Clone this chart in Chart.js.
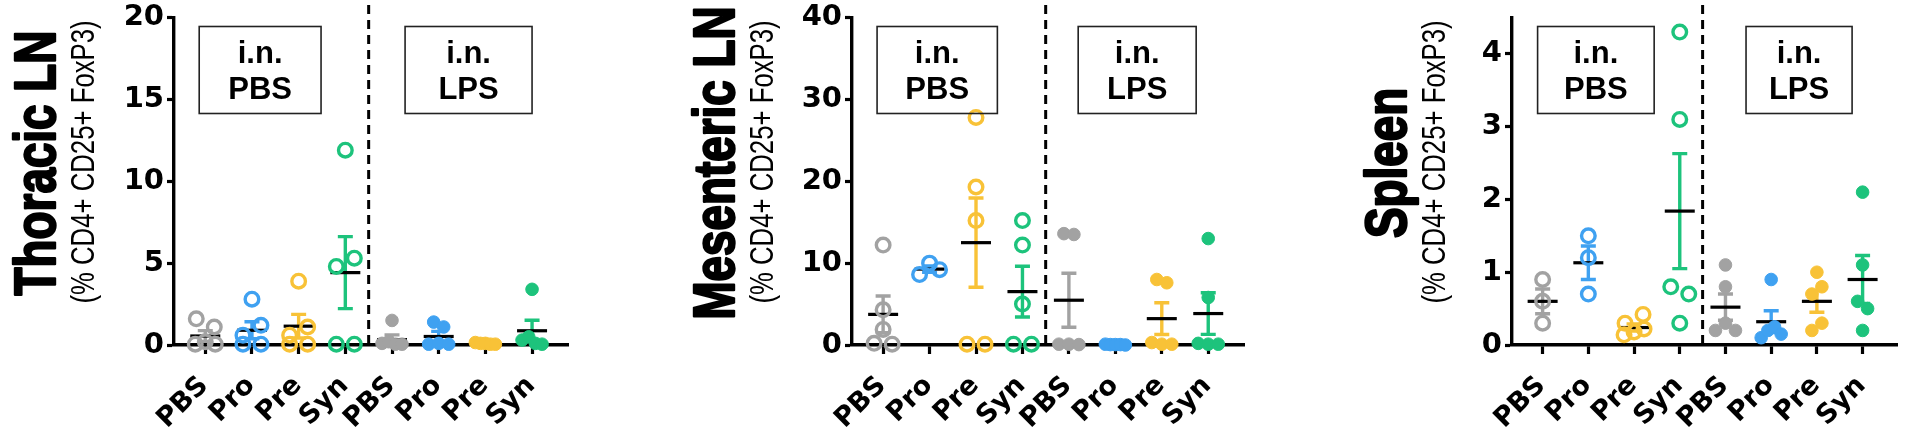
<!DOCTYPE html>
<html>
<head>
<meta charset="utf-8">
<script src="https://cdn.jsdelivr.net/npm/chart.js@4.4.0/dist/chart.umd.min.js"></script>
<style>
  body { margin: 0; background: #fff; width: 1908px; height: 432px; overflow: hidden; position: relative; }
  canvas { position: absolute; top: 0; }
</style>
</head>
<body>
<canvas id="thoracic" width="636" height="432" style="left:0px"></canvas>
<canvas id="mesenteric" width="636" height="432" style="left:636px"></canvas>
<canvas id="spleen" width="636" height="432" style="left:1272px"></canvas>
<script>
// groups on the x axis: first four got i.n. PBS, last four i.n. LPS
const groups = ["PBS", "Pro", "Pre", "Syn", "PBS", "Pro", "Pre", "Syn"];
const treatments = ["PBS", "LPS"];

const thoracicTicks = [0, 5, 10, 15, 20];
const thoracicValues = [
  [1.6, 1.1, 0.05, 0.2, 0.05],
  [2.8, 0.6, 1.2, 0.05, 0.05],
  [3.9, 0.6, 1.1, 0.05, 0.05],
  [11.9, 4.8, 5.3, 0.05, 0.05],
  [1.5, 0.1, 0.2, 0.05, 0.05],
  [1.4, 1.1, 0.05, 0.1, 0.05],
  [0.15, 0.1, 0.1, 0.05, 0.05],
  [3.4, 0.3, 0.5, 0.1, 0.05]
];
const thoracicMeans = [0.55, 0.9, 1.15, 4.42, 0.33, 0.52, 0.09, 0.87];
const thoracicSems = [0.33, 0.52, 0.72, 2.2, 0.29, 0.31, 0.02, 0.64];

const mesentericTicks = [0, 10, 20, 30, 40];
const mesentericValues = [
  [12.2, 4.3, 1.9, 0.2, 0.1],
  [8.6, 10.0, 9.2],
  [27.8, 19.3, 15.2, 0.1, 0.1],
  [15.2, 12.2, 5.0, 0.1, 0.1],
  [13.6, 13.5, 0.1, 0.1, 0.05],
  [0.1, 0.05, 0.05, 0.05, 0.0],
  [8.0, 7.6, 0.3, 0.1, 0.1],
  [13.0, 5.8, 0.2, 0.1, 0.1]
];
const mesentericMeans = [3.74, 9.27, 12.5, 6.52, 5.47, 0.05, 3.22, 3.84];
const mesentericSems = [2.25, 0.4, 5.45, 3.1, 3.3, 0.02, 1.94, 2.54];

const spleenTicks = [0, 1, 2, 3, 4];
const spleenValues = [
  [0.9, 0.6, 0.3],
  [1.5, 1.2, 0.7],
  [0.3, 0.42, 0.14, 0.18, 0.22],
  [4.3, 3.1, 0.8, 0.7, 0.3],
  [1.1, 0.8, 0.2, 0.3, 0.2],
  [0.9, 0.1, 0.2, 0.25, 0.15],
  [1.0, 0.7, 0.8, 0.2, 0.3],
  [2.1, 1.1, 0.6, 0.5, 0.2]
];
const spleenMeans = [0.6, 1.13, 0.24, 1.84, 0.52, 0.32, 0.6, 0.9];
const spleenSems = [0.17, 0.23, 0.05, 0.79, 0.18, 0.15, 0.15, 0.33];

const groupColors = ["#a2a2a2", "#3fa1f1", "#f8c237", "#1dc37c"];
const tickFont = "'DejaVu Sans', sans-serif";
const textFont = "'Liberation Sans', Arial, sans-serif";

// spread points that sit at nearly the same height, like a dot plot
function spreadPoints(chart) {
  const xs = chart.scales.x, ys = chart.scales.y;
  const unit = xs.getPixelForValue(1) - xs.getPixelForValue(0);
  chart.data.datasets.forEach((ds, g) => {
    const step = ds.open ? 18 : 10;
    const pts = ds.data.map((p, i) => ({ i: i, py: ys.getPixelForValue(p.y) }));
    pts.sort((a, b) => a.py - b.py);
    let bin = [];
    const flush = () => {
      bin.sort((a, b) => a.i - b.i);
      const half = Math.min(10, step * (bin.length - 1) / 2);
      bin.forEach((p, k) => {
        const off = bin.length > 1 ? -half + 2 * half * k / (bin.length - 1) : 0;
        ds.data[p.i].x = g + off / unit;
      });
      bin = [];
    };
    pts.forEach(p => {
      if (bin.length && p.py - bin[0].py > 13) flush();
      bin.push(p);
    });
    flush();
  });
  chart.update('none');
}

function makePanel(id, cfg) {
  const datasets = cfg.values.map((vals, g) => {
    const open = g < 4;
    const color = groupColors[g % 4];
    return {
      label: groups[g],
      open: open,
      data: vals.map(v => ({ x: g, y: v })),
      pointRadius: open ? 6.8 : 6.3,
      pointHoverRadius: open ? 6.8 : 6.3,
      pointBorderWidth: open ? 3.4 : 1,
      pointBackgroundColor: open ? "rgba(255,255,255,0)" : color,
      pointBorderColor: color,
      clip: false
    };
  });

  const decor = {
    id: "decor",
    beforeDatasetsDraw(chart) {
      const ctx = chart.ctx, xs = chart.scales.x, ys = chart.scales.y, area = chart.chartArea;
      ctx.save();
      // dashed divider between i.n. PBS and i.n. LPS
      const dx = xs.getPixelForValue(3.5);
      ctx.strokeStyle = "#000";
      ctx.lineWidth = 3;
      ctx.setLineDash([9, 6]);
      ctx.beginPath();
      ctx.moveTo(dx, 5);
      ctx.lineTo(dx, area.bottom);
      ctx.stroke();
      ctx.setLineDash([]);
      // mean + SEM
      cfg.means.forEach((m, g) => {
        const x = xs.getPixelForValue(g);
        const yt = ys.getPixelForValue(m + cfg.sems[g]);
        const yb = ys.getPixelForValue(Math.max(0, m - cfg.sems[g]));
        const ym = ys.getPixelForValue(m);
        ctx.strokeStyle = groupColors[g % 4];
        ctx.lineWidth = 3.4;
        ctx.beginPath();
        ctx.moveTo(x, yt); ctx.lineTo(x, yb);
        ctx.moveTo(x - 7.5, yt); ctx.lineTo(x + 7.5, yt);
        ctx.moveTo(x - 7.5, yb); ctx.lineTo(x + 7.5, yb);
        ctx.stroke();
        ctx.strokeStyle = "#000";
        ctx.lineWidth = 3.2;
        ctx.beginPath();
        ctx.moveTo(x - 15, ym); ctx.lineTo(x + 15, ym);
        ctx.stroke();
      });
      ctx.restore();
    },
    afterDraw(chart) {
      const ctx = chart.ctx, xs = chart.scales.x, area = chart.chartArea;
      ctx.save();
      // treatment boxes
      cfg.boxes.forEach((b, k) => {
        const x0 = xs.getPixelForValue(b[0]), x1 = xs.getPixelForValue(b[1]);
        ctx.strokeStyle = "#222";
        ctx.lineWidth = 1.6;
        ctx.strokeRect(x0, 26.5, x1 - x0, 87);
        ctx.fillStyle = "#000";
        ctx.font = "bold 31px " + textFont;
        ctx.textAlign = "center";
        ctx.textBaseline = "alphabetic";
        ctx.fillText("i.n.", (x0 + x1) / 2, 63);
        ctx.fillText(treatments[k], (x0 + x1) / 2, 99);
      });
      // axis titles
      ctx.fillStyle = "#000";
      ctx.strokeStyle = "#000";
      ctx.save();
      ctx.translate(area.left - 119 + cfg.shift, 163);
      ctx.rotate(-Math.PI / 2);
      ctx.scale(0.79, 1);
      ctx.font = "bold 58px " + textFont;
      ctx.textAlign = "center";
      ctx.textBaseline = "alphabetic";
      ctx.lineWidth = 2.4;
      ctx.lineJoin = "round";
      ctx.fillText(cfg.title, 0, 0);
      ctx.strokeText(cfg.title, 0, 0);
      ctx.restore();
      ctx.save();
      ctx.translate(area.left - 89.5 + cfg.shift, 162);
      ctx.rotate(-Math.PI / 2);
      ctx.scale(0.78, 1);
      ctx.font = "33px " + textFont;
      ctx.textAlign = "center";
      ctx.textBaseline = "middle";
      ctx.fillText("(% CD4+ CD25+ FoxP3)", 0, 0);
      ctx.restore();
      ctx.restore();
    }
  };

  const chart = new Chart(document.getElementById(id), {
    type: "scatter",
    data: { datasets: datasets },
    options: {
      responsive: false,
      animation: false,
      events: [],
      layout: { padding: { left: cfg.axisLeft - 60, right: 636 - cfg.axisRight, top: 15, bottom: 0 } },
      plugins: { legend: { display: false }, tooltip: { enabled: false } },
      scales: {
        x: {
          type: "linear",
          min: -0.67,
          max: 7.77,
          afterBuildTicks: s => { s.ticks = groups.map((_, i) => ({ value: i })); },
          afterFit: s => { s.height = 87; },
          grid: { drawOnChartArea: false, tickLength: 9, tickWidth: 3.2, tickColor: "#000" },
          border: { width: 3.4, color: "#000" },
          ticks: {
            autoSkip: false, minRotation: 45, maxRotation: 45, padding: 16, labelOffset: -1,
            color: "#000", font: { family: tickFont, size: 27, weight: "bold" },
            callback: v => groups[v]
          }
        },
        y: {
          min: 0,
          max: cfg.max,
          afterBuildTicks: s => { s.ticks = cfg.ticks.map(v => ({ value: v })); },
          afterFit: s => { s.width = 60; },
          grid: { drawOnChartArea: false, tickLength: 7, tickWidth: 3.2, tickColor: "#000" },
          border: { width: 3.4, color: "#000" },
          ticks: {
            padding: 3, color: "#000",
            font: { family: tickFont, size: 29, weight: "bold", lineHeight: 1 },
            callback: v => v
          }
        }
      }
    },
    plugins: [decor]
  });
  spreadPoints(chart);
  return chart;
}

makePanel("thoracic", {
  title: "Thoracic LN", values: thoracicValues, means: thoracicMeans, sems: thoracicSems,
  ticks: thoracicTicks, max: 20, axisLeft: 174, axisRight: 568, shift: 0,
  boxes: [[-0.13, 2.48], [4.28, 7.0]]
});
makePanel("mesenteric", {
  title: "Mesenteric LN", values: mesentericValues, means: mesentericMeans, sems: mesentericSems,
  ticks: mesentericTicks, max: 40, axisLeft: 216, axisRight: 608, shift: 1,
  boxes: [[-0.13, 2.46], [4.2, 6.74]]
});
makePanel("spleen", {
  title: "Spleen", values: spleenValues, means: spleenMeans, sems: spleenSems,
  ticks: spleenTicks, max: 4.5, axisLeft: 240, axisRight: 634, shift: 13,
  boxes: [[-0.11, 2.44], [4.45, 6.77]]
});
</script>
</body>
</html>
